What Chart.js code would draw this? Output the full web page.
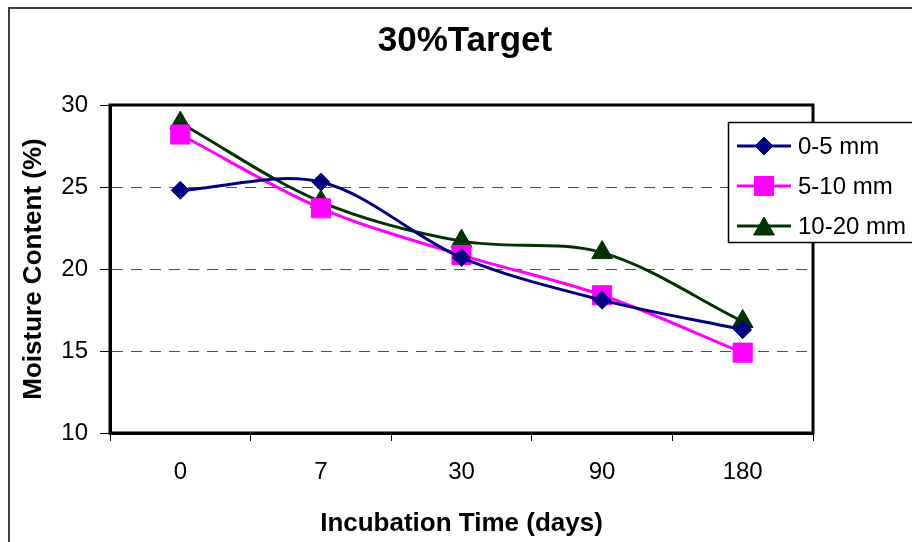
<!DOCTYPE html>
<html>
<head>
<meta charset="utf-8">
<title>30%Target</title>
<script src="https://cdn.jsdelivr.net/npm/chart.js@4.4.1/dist/chart.umd.min.js"></script>
<style>
  html, body { margin: 0; padding: 0; background: #fff; }
  canvas { display: block; }
</style>
</head>
<body>
<canvas id="chart" width="912" height="542"></canvas>
<script>
// values
const days = ['0', '7', '30', '90', '180'];
const depth0to5 = [24.8, 25.3, 20.7, 18.1, 16.3];
const depth5to10 = [28.2, 23.7, 20.85, 18.4, 14.9];
const depth10to20 = [28.9, 24.1, 21.7, 21.0, 16.8];
const yTicks = [10, 15, 20, 25, 30];

const FONT = '"Liberation Sans", Arial, sans-serif';

function marker(ctx, style, r, x, y, color) {
    ctx.save();
    ctx.fillStyle = color;
    ctx.strokeStyle = color;
    ctx.lineWidth = 1;
    ctx.beginPath();
    if (style === 'rectRot') {
        ctx.moveTo(x - r, y);
        ctx.lineTo(x, y - r);
        ctx.lineTo(x + r, y);
        ctx.lineTo(x, y + r);
    } else if (style === 'rect') {
        const s = r * Math.SQRT1_2;
        ctx.rect(x - s, y - s, 2 * s, 2 * s);
    } else {
        const a = 2 * Math.PI / 3;
        ctx.moveTo(x, y - r);
        ctx.lineTo(x + Math.sin(a) * r, y - Math.cos(a) * r);
        ctx.lineTo(x + Math.sin(2 * a) * r, y - Math.cos(2 * a) * r);
    }
    ctx.closePath();
    ctx.fill();
    ctx.stroke();
    ctx.restore();
}

const decorations = {
    id: 'decorations',
    beforeDraw(chart) {
        const ctx = chart.ctx;
        ctx.save();
        ctx.fillStyle = '#fff';
        ctx.fillRect(0, 0, chart.width, chart.height);
        ctx.strokeStyle = '#404040';
        ctx.lineWidth = 2;
        ctx.strokeRect(9, 8, 1000, 1000);
        ctx.fillStyle = '#000';
        ctx.font = 'bold 35px ' + FONT;
        ctx.textAlign = 'center';
        ctx.textBaseline = 'middle';
        ctx.fillText('30%Target', 465, 41);
        ctx.restore();
    },
    beforeDatasetsDraw(chart) {
        const a = chart.chartArea;
        const ctx = chart.ctx;
        ctx.save();
        ctx.strokeStyle = '#000';
        ctx.lineWidth = 3;
        ctx.strokeRect(a.left, a.top, a.right - a.left, a.bottom - a.top);
        ctx.restore();
    },
    afterDraw(chart) {
        const ctx = chart.ctx;
        ctx.save();
        ctx.fillStyle = '#fff';
        ctx.fillRect(728, 122, 200, 121);
        ctx.strokeStyle = '#000';
        ctx.lineWidth = 1.5;
        ctx.strokeRect(728.5, 122.5, 200, 120);
        ctx.font = '24px ' + FONT;
        ctx.textBaseline = 'middle';
        ctx.textAlign = 'left';
        chart.data.datasets.forEach((ds, i) => {
            const y = 146 + i * 40;
            ctx.strokeStyle = ds.borderColor;
            ctx.lineWidth = 3;
            ctx.beginPath();
            ctx.moveTo(737, y);
            ctx.lineTo(791, y);
            ctx.stroke();
            const my = ds.pointStyle === 'triangle' ? y + 3 : y;
            marker(ctx, ds.pointStyle, ds.pointRadius, 764, my, ds.borderColor);
            ctx.fillStyle = '#000';
            ctx.fillText(ds.label, 798, y + 1);
        });
        ctx.restore();
    }
};

new Chart(document.getElementById('chart'), {
    type: 'line',
    data: {
        labels: days,
        datasets: [
            {
                label: '0-5 mm',
                data: depth0to5,
                borderColor: '#000080',
                backgroundColor: '#000080',
                pointStyle: 'rectRot',
                pointRadius: 9
            },
            {
                label: '5-10 mm',
                data: depth5to10,
                borderColor: '#FF00FF',
                backgroundColor: '#FF00FF',
                pointStyle: 'rect',
                pointRadius: 13.5
            },
            {
                label: '10-20 mm',
                data: depth10to20,
                borderColor: '#003300',
                backgroundColor: '#003300',
                pointStyle: 'triangle',
                pointRadius: 12
            }
        ]
    },
    options: {
        responsive: false,
        animation: false,
        layout: { padding: { top: 105, right: 99, left: 0, bottom: 0 } },
        elements: {
            line: { borderWidth: 3, tension: 0.33, fill: false },
            point: { borderWidth: 1, hoverRadius: 9 }
        },
        plugins: {
            legend: { display: false },
            title: { display: false },
            tooltip: { enabled: false }
        },
        scales: {
            x: {
                type: 'category',
                offset: true,
                afterFit(scale) { scale.height = 109; },
                grid: {
                    offset: true,
                    drawOnChartArea: false,
                    drawTicks: true,
                    tickLength: 8,
                    color: '#000',
                    tickColor: '#000',
                    lineWidth: 1
                },
                border: { display: true, color: '#000', width: 3 },
                ticks: {
                    color: '#000',
                    padding: 17,
                    maxRotation: 0,
                    font: { family: FONT, size: 24 }
                },
                title: {
                    display: true,
                    text: 'Incubation Time (days)',
                    color: '#000',
                    padding: { top: 0, bottom: 3 },
                    font: { family: FONT, size: 26, weight: 'bold' }
                }
            },
            y: {
                min: 10,
                max: 30,
                afterFit(scale) { scale.width = 110; },
                afterBuildTicks(scale) { scale.ticks = yTicks.map(v => ({ value: v })); },
                grid: {
                    color: '#505050',
                    lineWidth: 1,
                    tickLength: 10,
                    tickColor: '#000',
                    tickWidth: 1
                },
                border: { display: true, color: '#000', width: 3, dash: [11, 8] },
                ticks: {
                    color: '#000',
                    padding: 12,
                    font: { family: FONT, size: 24 }
                },
                title: {
                    display: true,
                    text: 'Moisture Content (%)',
                    color: '#000',
                    padding: { top: 18, bottom: 0 },
                    font: { family: FONT, size: 26, weight: 'bold' }
                }
            }
        }
    },
    plugins: [decorations]
});
</script>
</body>
</html>
